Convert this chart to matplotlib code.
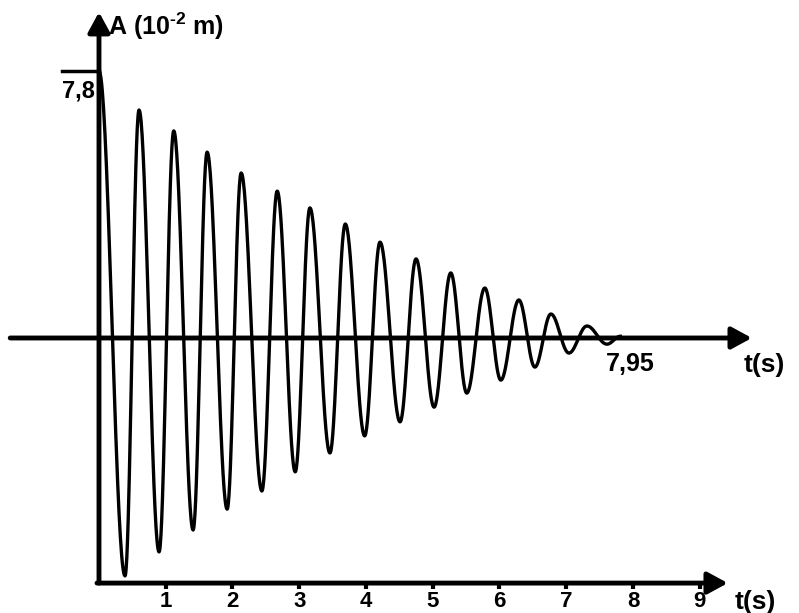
import numpy as np
import matplotlib
matplotlib.use("Agg")
import matplotlib.pyplot as plt

plt.rcParams['font.family'] = ['Liberation Sans', 'DejaVu Sans']
plt.rcParams['font.weight'] = 'bold'
plt.rcParams['mathtext.fontset'] = 'custom'
plt.rcParams['mathtext.rm'] = 'Liberation Sans:bold'
plt.rcParams['mathtext.bf'] = 'Liberation Sans:bold'
plt.rcParams['mathtext.it'] = 'Liberation Sans:bold'

# extrema of the oscillation
ext_t = [0.0, 0.39, 0.60, 0.90, 1.12, 1.41, 1.62, 1.92, 2.13, 2.44, 2.67,
         2.94, 3.16, 3.46, 3.69, 3.98, 4.21, 4.51, 4.75, 5.02, 5.27, 5.51,
         5.78, 6.02, 6.29, 6.53, 6.77, 7.04, 7.31, 7.61, 7.81]
ext_a = [7.8, -6.95, 6.66, -6.25, 6.05, -5.61, 5.43, -5.00, 4.82, -4.47, 4.29,
         -3.91, 3.80, -3.36, 3.33, -2.86, 2.80, -2.45, 2.31, -2.02, 1.90, -1.61,
         1.46, -1.23, 1.11, -0.85, 0.70, -0.44, 0.35, -0.18, 0.05]

ticks = [1, 2, 3, 4, 5, 6, 7, 8, 9]
tick_labels = ["1", "2", "3", "4", "5", "6", "7", "8", "9"]
a_max = 7.8
t_end_label = "7,95"

# half cosine between successive extrema
t_curve = []
a_curve = []
for i in range(len(ext_t) - 1):
    t0, t1 = ext_t[i], ext_t[i + 1]
    a0, a1 = ext_a[i], ext_a[i + 1]
    s = np.linspace(0, 1, 40)
    t_curve.extend(t0 + (t1 - t0) * s)
    a_curve.extend((a0 + a1) / 2 + (a0 - a1) / 2 * np.cos(np.pi * s))

fig = plt.figure(figsize=(7.99, 6.13), dpi=100)
ax = fig.add_axes([0, 0, 1, 1])
ax.set_xlim(-1.483, 10.487)
ax.set_ylim(-8.034, 9.874)
ax.axis('off')

y_bot = -7.16
arrow = dict(arrowstyle='-|>,head_length=0.55,head_width=0.3', lw=3.5,
             color='k', shrinkA=0, shrinkB=0, mutation_scale=22)

# middle time axis
ax.annotate('', xy=(9.78, 0), xytext=(-1.33, 0), arrowprops=arrow)
# vertical axis
ax.annotate('', xy=(0, 9.52), xytext=(0, y_bot), arrowprops=arrow)
# bottom time axis
ax.annotate('', xy=(9.42, y_bot), xytext=(-0.03, y_bot), arrowprops=arrow)

for t in ticks:
    ax.plot([t, t], [y_bot, y_bot - 0.16], color='k', lw=3, solid_capstyle='butt')
for t, lab in zip(ticks, tick_labels):
    ax.text(t, -7.38, lab, ha='center', va='top', fontsize=16, fontweight='bold')

ax.plot([-0.55, 0], [a_max, a_max], color='k', lw=2.5)
ax.text(-0.06, 7.54, "7,8", ha='right', va='top', fontsize=17, fontweight='bold')

ax.plot(t_curve, a_curve, color='k', lw=2.4)

ax.text(0.135, 9.1, "A (10$^{\u20102}$ m)", ha='left', va='center', fontsize=18, fontweight='bold')
ax.text(7.6, -0.75, t_end_label, ha='left', va='center', fontsize=18, fontweight='bold')
ax.text(9.66, -0.8, "t(s)", ha='left', va='center', fontsize=19, fontweight='bold')
ax.text(9.52, -7.7, "t(s)", ha='left', va='center', fontsize=19, fontweight='bold')

fig.savefig("out.png", dpi=100)
